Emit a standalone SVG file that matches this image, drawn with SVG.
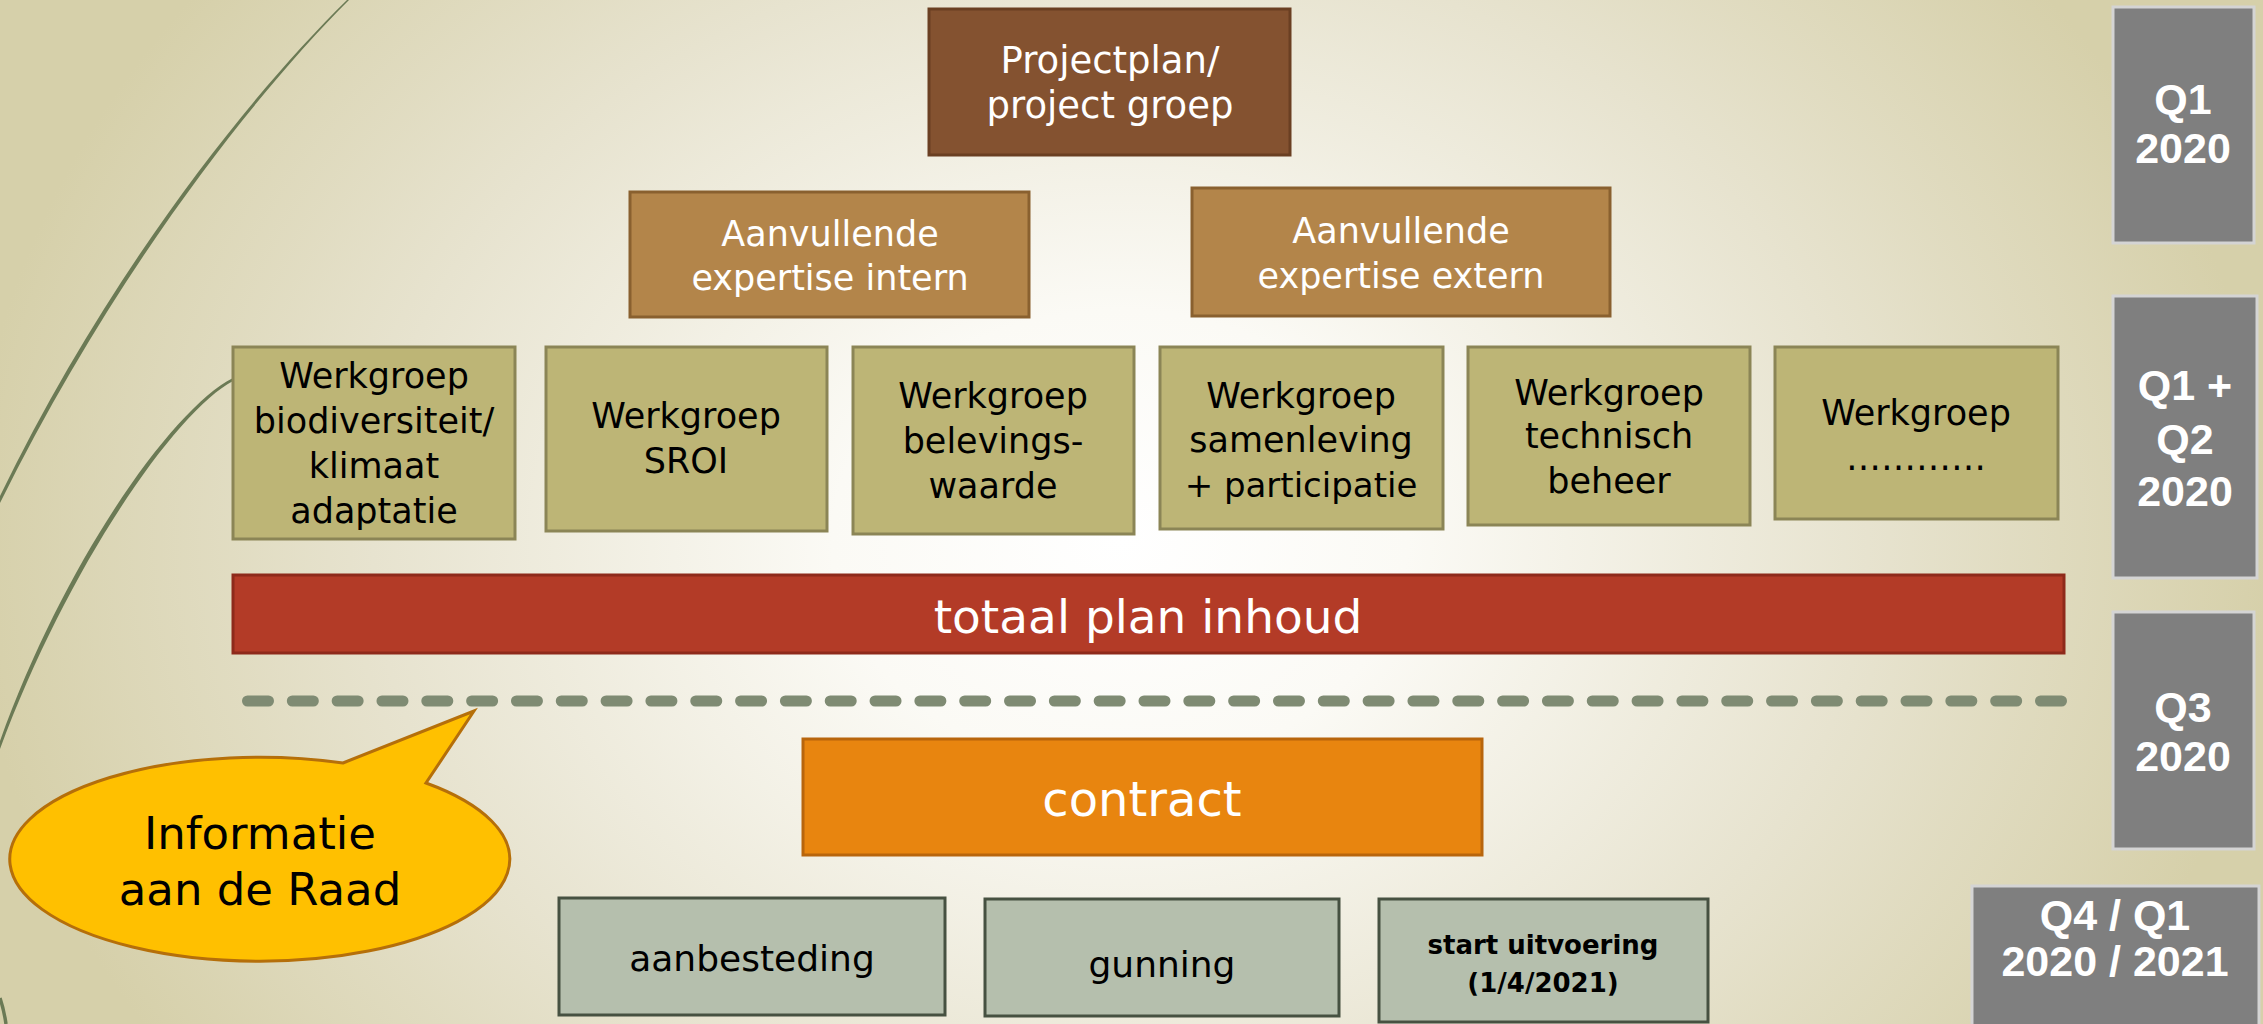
<svg xmlns="http://www.w3.org/2000/svg" width="2263" height="1024" viewBox="0 0 2263 1024">
<defs>
<radialGradient id="bg" gradientUnits="userSpaceOnUse" cx="1120" cy="540" r="1150" gradientTransform="translate(1120 540) scale(1 0.8) translate(-1120 -540)">
<stop offset="0" stop-color="#ffffff"/>
<stop offset="0.25" stop-color="#fbfaf5"/>
<stop offset="0.65" stop-color="#e7e3cf"/>
<stop offset="1" stop-color="#d6d0aa"/>
</radialGradient>
<style>
text{font-family:"DejaVu Sans","Liberation Sans",sans-serif;text-anchor:middle}
.w{fill:#ffffff;font-weight:normal}
.b{fill:#000000;font-weight:normal}
.q{fill:#ffffff;font-family:"Liberation Sans",Arial,sans-serif;font-weight:bold;font-size:43px}
.pp{fill:#845230;stroke:#6a3f22;stroke-width:3}
.ae{fill:#b3854a;stroke:#89602f;stroke-width:3}
.wg{fill:#bdb576;stroke:#8b8556;stroke-width:3}
.tp{fill:#b33b27;stroke:#8e2a1b;stroke-width:3}
.ct{fill:#e8850f;stroke:#b8650c;stroke-width:3}
.bt{fill:#b5bfad;stroke:#465141;stroke-width:3}
.qb{fill:#7f7f7f;stroke:#d4d4d4;stroke-width:3}
.curve{fill:#6b7a55}
</style>
</defs>
<rect width="2263" height="1024" fill="url(#bg)"/>
<g id="background-curves">
<path class="curve" d="M347,0 C250,95 110,270 0,496 L0,503 C113,275 252,97 349,0 Z"/>
<path class="curve" d="M233,378 C173,408 65,560 0,741 L0,749 C68,566 176,411 233,381 Z"/>
<path d="M0,998 Q4,1010 6,1024" fill="none" stroke="#6b7a55" stroke-width="3.5"/>
</g>
<g id="connectors">
<path d="M247.5,701 H2061.5" fill="none" stroke="#7f8b73" stroke-width="11" stroke-linecap="round" stroke-dasharray="21 23.825"/>
</g>
<g id="projectplan">
<rect class="pp" x="929" y="9" width="361" height="146"/>
<text class="w" x="1110" y="73" font-size="37">Projectplan/</text>
<text class="w" x="1110" y="118" font-size="37">project groep</text>
</g>
<g id="expertise-intern">
<rect class="ae" x="630" y="192" width="399" height="125"/>
<text class="w" x="830" y="246" font-size="35">Aanvullende</text>
<text class="w" x="830" y="290" font-size="35">expertise intern</text>
</g>
<g id="expertise-extern">
<rect class="ae" x="1192" y="188" width="418" height="128"/>
<text class="w" x="1401" y="243" font-size="35">Aanvullende</text>
<text class="w" x="1401" y="288" font-size="35">expertise extern</text>
</g>
<g id="wg-biodiversiteit">
<rect class="wg" x="233" y="347" width="282" height="192"/>
<text class="b" x="374" y="388" font-size="35">Werkgroep</text>
<text class="b" x="374" y="433" font-size="35">biodiversiteit/</text>
<text class="b" x="374" y="478" font-size="35">klimaat</text>
<text class="b" x="374" y="523" font-size="35">adaptatie</text>
</g>
<g id="wg-sroi">
<rect class="wg" x="546" y="347" width="281" height="184"/>
<text class="b" x="686" y="428" font-size="35">Werkgroep</text>
<text class="b" x="686" y="473" font-size="35">SROI</text>
</g>
<g id="wg-belevingswaarde">
<rect class="wg" x="853" y="347" width="281" height="187"/>
<text class="b" x="993" y="408" font-size="35">Werkgroep</text>
<text class="b" x="993" y="453" font-size="35">belevings-</text>
<text class="b" x="993" y="498" font-size="35">waarde</text>
</g>
<g id="wg-samenleving">
<rect class="wg" x="1160" y="347" width="283" height="182"/>
<text class="b" x="1301" y="408" font-size="35">Werkgroep</text>
<text class="b" x="1301" y="452" font-size="35">samenleving</text>
<text class="b" x="1301" y="497" font-size="34">+ participatie</text>
</g>
<g id="wg-technisch">
<rect class="wg" x="1468" y="347" width="282" height="178"/>
<text class="b" x="1609" y="405" font-size="35">Werkgroep</text>
<text class="b" x="1609" y="448" font-size="35">technisch</text>
<text class="b" x="1609" y="493" font-size="35">beheer</text>
</g>
<g id="wg-overig">
<rect class="wg" x="1775" y="347" width="283" height="172"/>
<text class="b" x="1916" y="425" font-size="35">Werkgroep</text>
<text class="b" x="1916" y="470" font-size="35">…………</text>
</g>
<g id="totaal-plan">
<rect class="tp" x="233" y="575" width="1831" height="78"/>
<text class="w" x="1148" y="633" font-size="47">totaal plan inhoud</text>
</g>
<g id="contract">
<rect class="ct" x="803" y="739" width="679" height="116"/>
<text class="w" x="1142" y="816" font-size="48">contract</text>
</g>
<g id="aanbesteding">
<rect class="bt" x="559" y="898" width="386" height="117"/>
<text class="b" x="752" y="971" font-size="36">aanbesteding</text>
</g>
<g id="gunning">
<rect class="bt" x="985" y="899" width="354" height="117"/>
<text class="b" x="1162" y="977" font-size="36">gunning</text>
</g>
<g id="start-uitvoering">
<rect class="bt" x="1379" y="899" width="329" height="123"/>
<text x="1543" y="954" font-size="26" font-weight="bold" fill="#000">start uitvoering</text>
<text x="1543" y="992" font-size="26" font-weight="bold" fill="#000">(1/4/2021)</text>
</g>
<g id="info-raad">
<path d="M343,763 L474,711 L426,783 A250,102 0 1 1 343,763 Z" fill="#ffc000" stroke="#b56f0a" stroke-width="3"/>
<text class="b" x="260" y="849" font-size="45">Informatie</text>
<text class="b" x="260" y="905" font-size="45">aan de Raad</text>
</g>
<g id="q1-2020">
<rect class="qb" x="2113" y="7" width="141" height="236"/>
<text class="q" x="2183" y="114">Q1</text>
<text class="q" x="2183" y="163">2020</text>
</g>
<g id="q1q2-2020">
<rect class="qb" x="2113" y="296" width="144" height="282"/>
<text class="q" x="2185" y="400">Q1 +</text>
<text class="q" x="2185" y="454">Q2</text>
<text class="q" x="2185" y="506">2020</text>
</g>
<g id="q3-2020">
<rect class="qb" x="2113" y="612" width="141" height="237"/>
<text class="q" x="2183" y="722">Q3</text>
<text class="q" x="2183" y="771">2020</text>
</g>
<g id="q4q1-2020-2021">
<rect class="qb" x="1972" y="886" width="287" height="150"/>
<text class="q" x="2115" y="930">Q4 / Q1</text>
<text class="q" x="2115" y="976">2020 / 2021</text>
</g>
</svg>
